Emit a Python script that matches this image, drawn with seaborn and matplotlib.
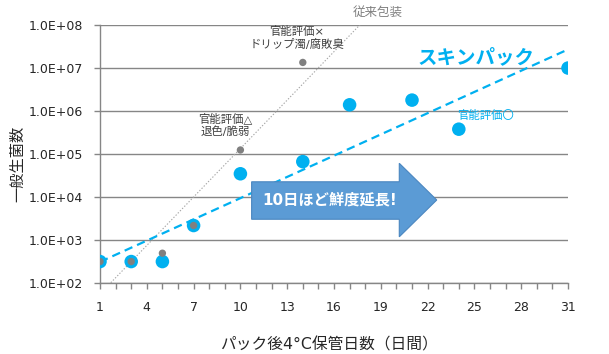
"""
スキンパック vs 従来包装 一般生菌数の推移
"""
import numpy as np
import pandas as pd
import matplotlib
matplotlib.use("Agg")
import matplotlib.pyplot as plt
from matplotlib.patches import Polygon
from matplotlib.ticker import FuncFormatter, NullLocator
import seaborn as sns

# ── データ ─────────────────────────────
days_skin = [1, 3, 5, 7, 10, 14, 17, 21, 24, 31]
cfu_skin = [3.2e2, 3.2e2, 3.2e2, 2.2e3, 3.5e4, 6.7e4, 1.4e6, 1.8e6, 3.8e5, 1.0e7]

days_conv = [1, 3, 5, 7, 10, 14]
cfu_conv = [3.2e2, 3.2e2, 5.0e2, 2.2e3, 1.25e5, 1.35e7]

x_ticks = list(range(1, 32))
x_labels = [str(d) if (d - 1) % 3 == 0 else "" for d in x_ticks]
y_ticks = [1e2, 1e3, 1e4, 1e5, 1e6, 1e7, 1e8]

BLUE = "#00B0F0"
GRAY = "#808080"
GRID = "#868686"

sns.set_style("white")
plt.rcParams["font.family"] = ["DejaVu Sans", "Noto Sans CJK JP"]

skin = pd.DataFrame({"day": days_skin, "cfu": cfu_skin})
conv = pd.DataFrame({"day": days_conv, "cfu": cfu_conv})


def exp_trend(df, x0, x1):
    # Excel の指数近似と同じ（log10 で線形回帰）
    k, b = np.polyfit(df["day"], np.log10(df["cfu"]), 1)
    xs = np.linspace(x0, x1, 200)
    return pd.DataFrame({"day": xs, "cfu": 10 ** (k * xs + b)})


fig = plt.figure(figsize=(6.09, 3.54), dpi=100)
ax = fig.add_axes([0.1642, 0.1997, 0.7685, 0.7297])
ax.set_yscale("log")

# 近似曲線
tr_conv = exp_trend(conv, 1, 31)
sns.lineplot(data=tr_conv, x="day", y="cfu", ax=ax, color="#a6a6a6",
             lw=0.8, linestyle=(0, (1.2, 1.6)), zorder=2)
tr_skin = exp_trend(skin, 1, 31)
sns.lineplot(data=tr_skin, x="day", y="cfu", ax=ax, color=BLUE,
             lw=1.6, linestyle=(0, (3.8, 2.3)), zorder=3)

# 実測値
sns.scatterplot(data=skin, x="day", y="cfu", ax=ax, color=BLUE, s=95,
                edgecolor="none", zorder=4)
sns.scatterplot(data=conv, x="day", y="cfu", ax=ax, color=GRAY, s=28,
                edgecolor="none", zorder=5)

ax.set_xlim(1, 31)
ax.set_ylim(1e2, 1e8)
ax.set_xticks(x_ticks)
ax.set_xticklabels(x_labels, fontsize=9)
ax.set_yticks(y_ticks)
ax.yaxis.set_minor_locator(NullLocator())
ax.yaxis.set_major_formatter(FuncFormatter(lambda v, p: f"{v:.1E}"))
ax.tick_params(axis="y", labelsize=9, length=4, width=1, color=GRID, pad=8, left=True)
ax.tick_params(axis="x", length=4, width=1, color=GRID, pad=9, bottom=True, direction="out")
ax.yaxis.grid(True, color=GRID, lw=1)
ax.xaxis.grid(False)
for s in ["top", "right"]:
    ax.spines[s].set_visible(False)
for s in ["left", "bottom"]:
    ax.spines[s].set_color(GRID)
    ax.spines[s].set_linewidth(1)

ax.set_xlabel("パック後4°C保管日数（日間）", fontsize=11.3, color="#262626")
ax.xaxis.set_label_coords(0.489, -0.21)
ax.set_ylabel("一般生菌数", fontsize=11, color="#262626")
ax.yaxis.set_label_coords(-0.16, 0.462)

# 注記
ax.text(13.6, 10 ** 7.7, "官能評価×\nドリップ濁/腐敗臭", fontsize=8.2, color="#404040",
        ha="center", va="center", linespacing=1.25)
ax.text(9.0, 10 ** 5.69, "官能評価△\n退色/脆弱", fontsize=8.2, color="#404040",
        ha="center", va="center", linespacing=1.25)
ax.text(25.7, 10 ** 5.89, "官能評価〇", fontsize=8.2, color=BLUE, ha="center", va="center")
ax.text(25.1, 10 ** 7.24, "スキンパック", fontsize=14, color=BLUE, fontweight="bold",
        ha="center", va="center")
ax.text(18.8, 10 ** 8.29, "従来包装", fontsize=9, color=GRAY, ha="center", va="center")

# 矢印
arrow = Polygon([(0.324, 0.248), (0.6395, 0.248), (0.6395, 0.180), (0.7195, 0.3225),
                 (0.6395, 0.4646), (0.6395, 0.393), (0.324, 0.393)],
                closed=True, transform=ax.transAxes, facecolor="#5B9BD5",
                edgecolor="#4a86c0", lw=0.8, zorder=6)
ax.add_patch(arrow)
ax.text(0.49, 0.3225, "10日ほど鮮度延長!", transform=ax.transAxes, fontsize=11,
        color="white", fontweight="bold", ha="center", va="center", zorder=7)

fig.savefig("out.png", dpi=100, facecolor="white")
